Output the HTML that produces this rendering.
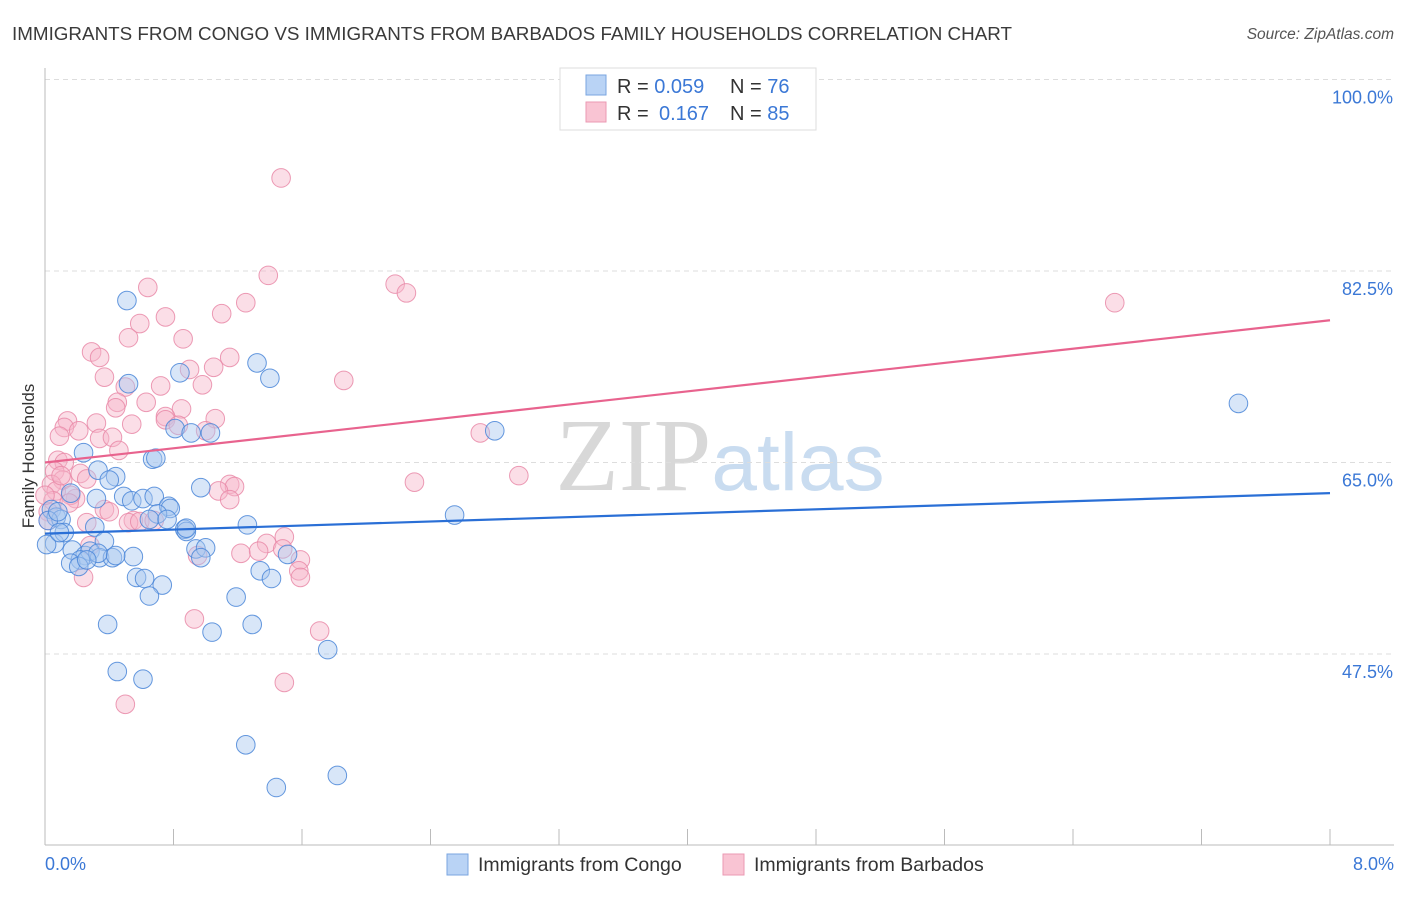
<!DOCTYPE html>
<html><head><meta charset="utf-8"><style>
body{margin:0;background:#fff;font-family:"Liberation Sans",sans-serif;}
svg text{font-family:"Liberation Sans",sans-serif;}
</style></head><body>
<svg id="chart" width="1406" height="892" viewBox="0 0 1406 892" xmlns="http://www.w3.org/2000/svg">
<text x="12" y="40" font-size="18.5" fill="#3a3a3a" textLength="1000" lengthAdjust="spacingAndGlyphs">IMMIGRANTS FROM CONGO VS IMMIGRANTS FROM BARBADOS FAMILY HOUSEHOLDS CORRELATION CHART</text>
<text x="1394" y="39" font-size="15.5" fill="#555" text-anchor="end" font-style="italic">Source: ZipAtlas.com</text>
<text x="720" y="490" font-size="104" text-anchor="middle"><tspan fill="#d8d8d8" font-family="Liberation Serif">ZIP</tspan><tspan fill="#c9dcf0" font-size="82">atlas</tspan></text>
<g id="grid"></g>
<g id="axes"></g>
<g id="points"></g>
<g id="trends"></g>
<text transform="translate(34,456) rotate(-90)" font-size="17" fill="#333" text-anchor="middle">Family Households</text>
<g>
<rect x="560" y="68" width="256" height="62" fill="#fff" stroke="#ddd"/>
<rect x="586" y="75" width="20" height="20" fill="#b9d3f5" stroke="#7aa6e0"/>
<rect x="586" y="102" width="20" height="20" fill="#f9c4d3" stroke="#eb9ab3"/>
<text x="617" y="93" font-size="20" fill="#333">R = <tspan fill="#3b78d6">0.059</tspan><tspan x="730">N = </tspan><tspan fill="#3b78d6">76</tspan></text>
<text x="617" y="120" font-size="20" fill="#333">R = <tspan x="659" fill="#3b78d6">0.167</tspan><tspan x="730">N = </tspan><tspan fill="#3b78d6">85</tspan></text>
</g>
<g>
<rect x="447" y="854" width="21" height="21" fill="#b9d3f5" stroke="#7aa6e0"/>
<text x="478" y="871" font-size="19.5" fill="#333">Immigrants from Congo</text>
<rect x="723" y="854" width="21" height="21" fill="#f9c4d3" stroke="#eb9ab3"/>
<text x="754" y="871" font-size="19.5" fill="#333">Immigrants from Barbados</text>
</g>
</svg>
<script>
const yTicks=[47.5,65.0,82.5,100.0];
const yTickLabels=["47.5%","65.0%","82.5%","100.0%"];
const xEndLabels=["0.0%","8.0%"];
const congoX=[0.51,1.32,1.40,0.52,0.84,0.81,0.91,1.03,2.80,7.43,0.24,0.67,0.69,0.33,0.44,0.40,0.16,0.32,0.49,0.54,0.61,0.68,0.77,0.78,0.97,0.70,0.04,0.07,0.10,0.02,0.31,1.26,2.55,0.87,0.88,0.06,0.01,0.37,0.17,0.25,0.28,0.22,0.16,0.34,0.42,0.55,0.94,1.00,0.97,1.51,0.21,0.57,0.62,0.73,1.19,1.34,1.41,0.39,1.04,1.29,1.76,0.45,0.61,1.25,1.82,1.44,0.12,0.09,0.65,0.76,0.88,0.33,0.26,0.44,0.65,0.08];
const congoY=[79.8,74.1,72.7,72.2,73.2,68.1,67.7,67.7,67.9,70.4,65.9,65.3,65.4,64.3,63.7,63.4,62.2,61.7,61.9,61.5,61.7,61.9,61.0,60.8,62.7,60.3,60.7,60.0,59.8,59.7,59.1,59.3,60.2,58.9,58.7,57.6,57.5,57.8,57.0,56.5,56.9,56.1,55.8,56.3,56.3,56.4,57.1,57.2,56.3,56.6,55.5,54.5,54.4,53.8,52.7,55.1,54.4,50.2,49.5,50.2,47.9,45.9,45.2,39.2,36.4,35.3,58.6,58.6,59.8,59.8,59.0,56.7,56.1,56.5,52.8,60.5];
const barbX=[1.47,1.39,2.18,2.25,6.66,0.64,1.25,1.10,0.75,0.59,0.52,0.86,0.29,0.34,1.15,1.05,0.90,0.37,1.86,0.50,0.72,0.98,0.45,0.63,0.85,0.75,0.44,0.14,0.12,0.21,0.32,0.54,1.06,0.75,0.83,1.00,0.09,0.34,0.42,0.46,2.71,2.95,2.30,0.08,0.12,0.06,0.22,0.26,0.11,0.04,0.07,0.19,0.16,1.15,1.18,1.08,1.15,0.37,0.55,0.52,0.59,0.26,0.05,0.02,1.22,1.38,1.49,1.48,1.59,1.58,1.59,0.95,0.24,0.93,1.71,1.49,0.50,0.00,0.02,0.10,0.40,0.68,0.15,0.28,1.33];
const barbY=[91.0,82.1,81.3,80.5,79.6,81.0,79.6,78.6,78.3,77.7,76.4,76.3,75.1,74.6,74.6,73.7,73.5,72.8,72.5,71.9,72.0,72.1,70.5,70.5,69.9,69.2,70.0,68.8,68.2,67.9,68.6,68.5,69.0,68.9,68.4,67.9,67.4,67.2,67.3,66.1,67.7,63.8,63.2,65.2,65.0,64.2,64.0,63.5,63.4,63.0,62.4,61.7,62.0,63.0,62.8,62.4,61.6,60.7,59.7,59.5,59.6,59.5,61.5,60.5,56.7,57.6,58.2,57.1,56.1,55.1,54.5,56.5,54.5,50.7,49.6,44.9,42.9,62.0,59.7,63.8,60.5,59.7,61.3,57.4,56.9];
const congoTrend=[58.5,62.2];
const barbTrend=[65.0,78.0];
const xMin=0,xMax=8;
const X=v=>45+(v-xMin)/(xMax-xMin)*1285;
const Y=v=>79.5+(100-v)/17.5*191.5;
const NS="http://www.w3.org/2000/svg";
function mk(tag,attrs,parent){const e=document.createElementNS(NS,tag);for(const k in attrs)e.setAttribute(k,attrs[k]);parent.appendChild(e);return e;}
const grid=document.getElementById('grid'),axes=document.getElementById('axes'),pts=document.getElementById('points'),tr=document.getElementById('trends');
yTicks.forEach((t,i)=>{
  const l=mk('line',{x1:45,x2:1394,y1:Y(t),y2:Y(t),stroke:'#ddd','stroke-dasharray':'5,4'},grid);
  
  
  const tx=mk('text',{x:1393,y:Y(t)+24,'font-size':18,fill:'#3b78d6','text-anchor':'end'},grid);
  tx.textContent=yTickLabels[i];
  
  
});
let a=mk('line',{x1:45,x2:45,y1:68,y2:845,stroke:'#bbb'},axes);


a=mk('line',{x1:45,x2:1394,y1:845,y2:845,stroke:'#bbb'},axes);


for(let i=0;i<=10;i++){const v=xMin+i*(xMax-xMin)/10;const t=mk('line',{x1:X(v),x2:X(v),y1:829,y2:845,stroke:'#bbb'},axes);

}
[[xMin,'start',45],[xMax,'end',1394]].forEach((d,i)=>{const t=mk('text',{x:d[2],y:870,'font-size':18,fill:'#3b78d6','text-anchor':d[1]},axes);t.textContent=xEndLabels[i];

});
function dots(xs,ys,fill,stroke,name){xs.forEach((x,i)=>{const c=mk('circle',{cx:X(x),cy:Y(ys[i]),r:9.3,fill:fill,'fill-opacity':0.45,stroke:stroke,'stroke-opacity':0.85,'stroke-width':1},pts);

});}
dots(barbX,barbY,'#f7b6c9','#e98aa8','barbados-point');
dots(congoX,congoY,'#a9c8f0','#4a86d8','congo-point');
let l=mk('line',{x1:X(xMin),y1:Y(congoTrend[0]),x2:X(xMax),y2:Y(congoTrend[1]),stroke:'#2a6fd6','stroke-width':2.2},tr);


l=mk('line',{x1:X(xMin),y1:Y(barbTrend[0]),x2:X(xMax),y2:Y(barbTrend[1]),stroke:'#e8638e','stroke-width':2.2},tr);


</script>
</body></html>
